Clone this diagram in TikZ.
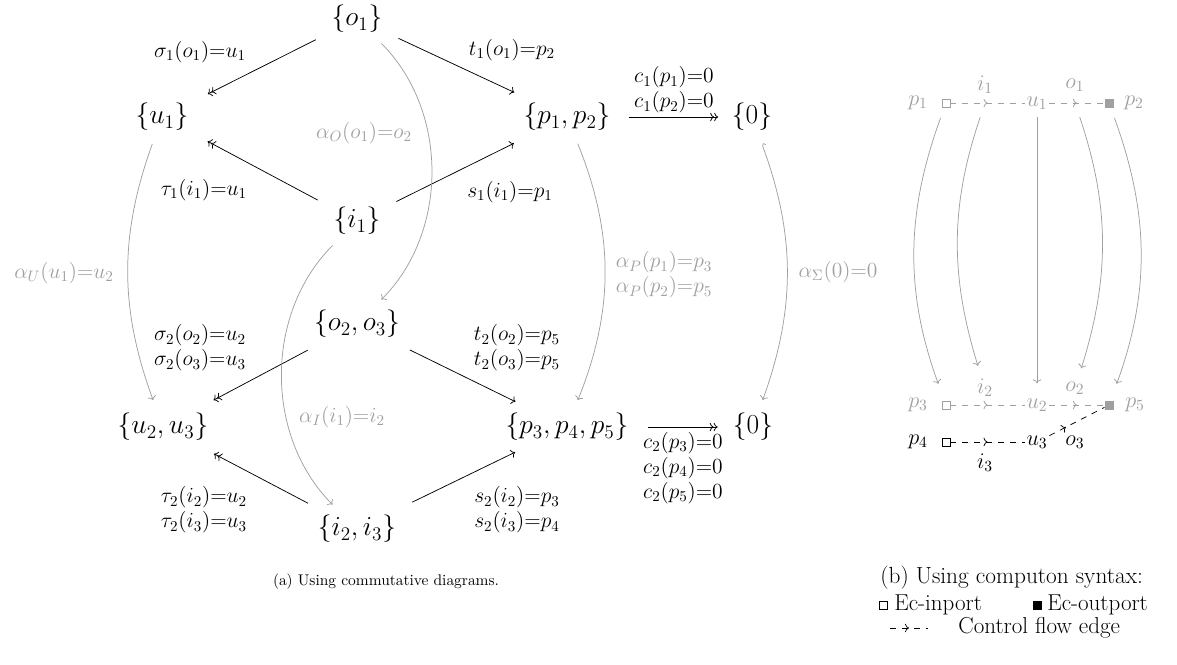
\RequirePackage{fix-cm}
\documentclass[tikz,border=0pt]{standalone}
\usetikzlibrary{arrows.meta,decorations.markings}

\definecolor{alphagray}{RGB}{160,160,160}

\tikzset{every picture/.style={line width=0.5pt}}
\tikzset{
  cell/.style={font=\fontsize{18.5}{22}\selectfont, inner sep=2pt},
  lbl/.style={font=\fontsize{14.5}{16.8}\selectfont, align=center, inner sep=0pt},
  glbl/.style={lbl, text=alphagray},
  mono/.style={->, shorten <=9.5pt, shorten >=12pt},
  epi/.style={->>, shorten <=9.5pt, shorten >=12pt},
  amap/.style={->, draw=alphagray, shorten <=7pt, shorten >=7pt},
  bl/.style={font=\fontsize{15}{18}\selectfont, inner sep=1pt},
  gbl/.style={bl, text=alphagray},
  inport/.style={draw, fill=white, minimum size=5.5pt, inner sep=0pt},
  outport/.style={draw, fill, minimum size=5.5pt, inner sep=0pt},
  ctrl/.style={dash pattern=on 4pt off 4pt, postaction={decorate},
    decoration={markings, mark=at position #1 with {\arrow{Computer Modern Rightarrow}}}},
  ctrl/.default=0.5,
  legend/.style={font=\fontsize{15.5}{18}\selectfont, inner sep=0pt, anchor=west}
}

\begin{document}
\begin{tikzpicture}[x=0.673pt,y=0.673pt,yscale=-1,xscale=1, >={Computer Modern Rightarrow}]
\useasboundingbox (0,0) rectangle (1177,664);

%%% (a) commutative diagram
%Text Node
\node[cell] (o1) at (357,19) {$\{o_1\}$};
\node[cell] (u1) at (162,117) {$\{u_1\}$};
\node[cell] (p12) at (567,117) {$\{p_1,p_2\}$};
\node[cell] (z1) at (752,117) {$\{0\}$};
\node[cell] (i1) at (357,221) {$\{i_1\}$};
\node[cell] (o23) at (357,324) {$\{o_2,o_3\}$};
\node[cell] (u23) at (163,427) {$\{u_2,u_3\}$};
\node[cell] (p345) at (567,427) {$\{p_3,p_4,p_5\}$};
\node[cell] (z2) at (753,427) {$\{0\}$};
\node[cell] (i23) at (357,529) {$\{i_2,i_3\}$};

%Straight Lines
\draw[epi] (o1) -- (u1);
\draw[mono] (o1) -- (p12);
\draw[epi] (i1) -- (u1);
\draw[mono, shorten >=14pt] (i1) -- (p12);
\draw[epi, shorten <=13pt, shorten >=14pt] (o23) -- (u23);
\draw[mono, shorten <=13.5pt, shorten >=12.5pt] (o23) -- (p345);
\draw[epi, shorten <=12.5pt, shorten >=14pt] (i23) -- (u23);
\draw[mono, shorten <=15pt, shorten >=12.5pt] (i23) -- (p345);
\draw[epi, shorten <=10pt, shorten >=7pt] (p12) -- (z1);
\draw[epi, shorten <=11pt, shorten >=8pt] (p345) -- (z2);

%Text Node
\node[lbl] (sig1) at (200,52) {$\sigma_1(o_1){=}u_1$};
\node[lbl] (t1) at (512,50) {$t_1(o_1){=}p_2$};
\node[lbl] (c1) at (674,90) {$c_1(p_1){=}0$\\$c_1(p_2){=}0$};
\node[lbl] (tau1) at (204,190) {$\tau_1(i_1){=}u_1$};
\node[lbl] (s1) at (510,192) {$s_1(i_1){=}p_1$};
\node[lbl] (sig2) at (200,348) {$\sigma_2(o_2){=}u_2$\\$\sigma_2(o_3){=}u_3$};
\node[lbl] (t2) at (517,348) {$t_2(o_2){=}p_5$\\$t_2(o_3){=}p_5$};
\node[lbl] (tau2) at (204,510) {$\tau_2(i_2){=}u_2$\\$\tau_2(i_3){=}u_3$};
\node[lbl] (s2) at (517,510) {$s_2(i_2){=}p_3$\\$s_2(i_3){=}p_4$};
\node[lbl] (c2) at (683,468) {$c_2(p_3){=}0$\\$c_2(p_4){=}0$\\$c_2(p_5){=}0$};

%Curve Lines (yscale=-1 swaps the bend side)
\draw[amap] (o1) to[bend right=45] (o23);
\draw[amap] (u1) to[bend left=20] (u23);
\draw[amap] (i1) to[bend left=45] (i23);
\draw[amap] (p12) to[bend right=22] (p345);
\draw[amap, {Hooks[right]}->] (z1) to[bend right=20] (z2);

%Text Node
\node[glbl] (aO) at (364,133) {$\alpha_O(o_1){=}o_2$};
\node[glbl] (aU) at (64,273) {$\alpha_U(u_1){=}u_2$};
\node[glbl] (aI) at (342,417) {$\alpha_I(i_1){=}i_2$};
\node[glbl] (aP) at (664,275) {$\alpha_P(p_1){=}p_3$\\$\alpha_P(p_2){=}p_5$};
\node[glbl] (aS) at (838,272) {$\alpha_\Sigma(0){=}0$};

\node[font=\fontsize{10.4}{12}\selectfont] (capa) at (386,582) {(a) Using commutative diagrams.};

%%% (b) computon syntax
%Text Node
\node[gbl] (p1b) at (918,103) {$p_1$};
\node[inport, draw=alphagray] (in1) at (946,103) {};
\node[gbl] (u1b) at (1037,103) {$u_1$};
\node[outport, draw=alphagray, fill=alphagray] (out1) at (1109,103) {};
\node[gbl] (p2b) at (1134,103) {$p_2$};
\node[gbl] (i1b) at (985,85) {$i_1$};
\node[gbl] (o1b) at (1075,85) {$o_1$};
\coordinate (m1a) at (985,103);
\coordinate (m1b) at (1075,103);

\node[gbl] (p3b) at (918,405) {$p_3$};
\node[inport, draw=alphagray] (in2) at (946,405) {};
\node[gbl] (u2b) at (1037,405) {$u_2$};
\node[outport, draw=alphagray, fill=alphagray] (out2) at (1109,405) {};
\node[gbl] (p5b) at (1135,405) {$p_5$};
\node[gbl] (i2b) at (985,388) {$i_2$};
\node[gbl] (o2b) at (1075,388) {$o_2$};

\node[bl] (p4b) at (918,442) {$p_4$};
\node[inport] (in3) at (946,442) {};
\node[bl] (u3b) at (1037,442) {$u_3$};
\node[bl] (i3b) at (985,463) {$i_3$};
\node[bl] (o3b) at (1075,442) {$o_3$};

%Straight Lines
\draw[ctrl, draw=alphagray] (in1) -- (u1b);
\draw[ctrl, draw=alphagray] (u1b) -- (out1);
\draw[ctrl, draw=alphagray] (in2) -- (u2b);
\draw[ctrl, draw=alphagray] (u2b) -- (out2);
\draw[ctrl] (in3) -- (u3b);
\draw[ctrl=0.3] (u3b) -- (out2);

%Curve Lines
\draw[amap, shorten <=7.5pt, shorten >=12pt] (in1) to[bend left=20] (in2);
\draw[amap, shorten <=10pt, shorten >=8pt] (m1a) to[bend left=18] (i2b);
\draw[amap, shorten <=4pt, shorten >=9pt] (u1b) -- (u2b);
\draw[amap, shorten <=10pt, shorten >=8pt] (m1b) to[bend right=18] (o2b);
\draw[amap, shorten <=7.5pt, shorten >=12pt] (out1) to[bend right=20] (out2);

%Legend
\node[font=\fontsize{15.7}{18}\selectfont, inner sep=0pt, anchor=west] (capb) at (880,578) {(b) Using computon syntax:};
\node[inport] (lgin) at (883,605) {};
\node[legend] (lgintxt) at (894,605) {Ec-inport};
\node[outport] (lgout) at (1037,605) {};
\node[legend] (lgouttxt) at (1047,605) {Ec-outport};
\coordinate (lgA) at (890,628);
\coordinate (lgB) at (928,628);
\draw[ctrl] (lgA) -- (lgB);
\node[legend] (lgflow) at (958,628) {Control flow edge};

\end{tikzpicture}
\end{document}
